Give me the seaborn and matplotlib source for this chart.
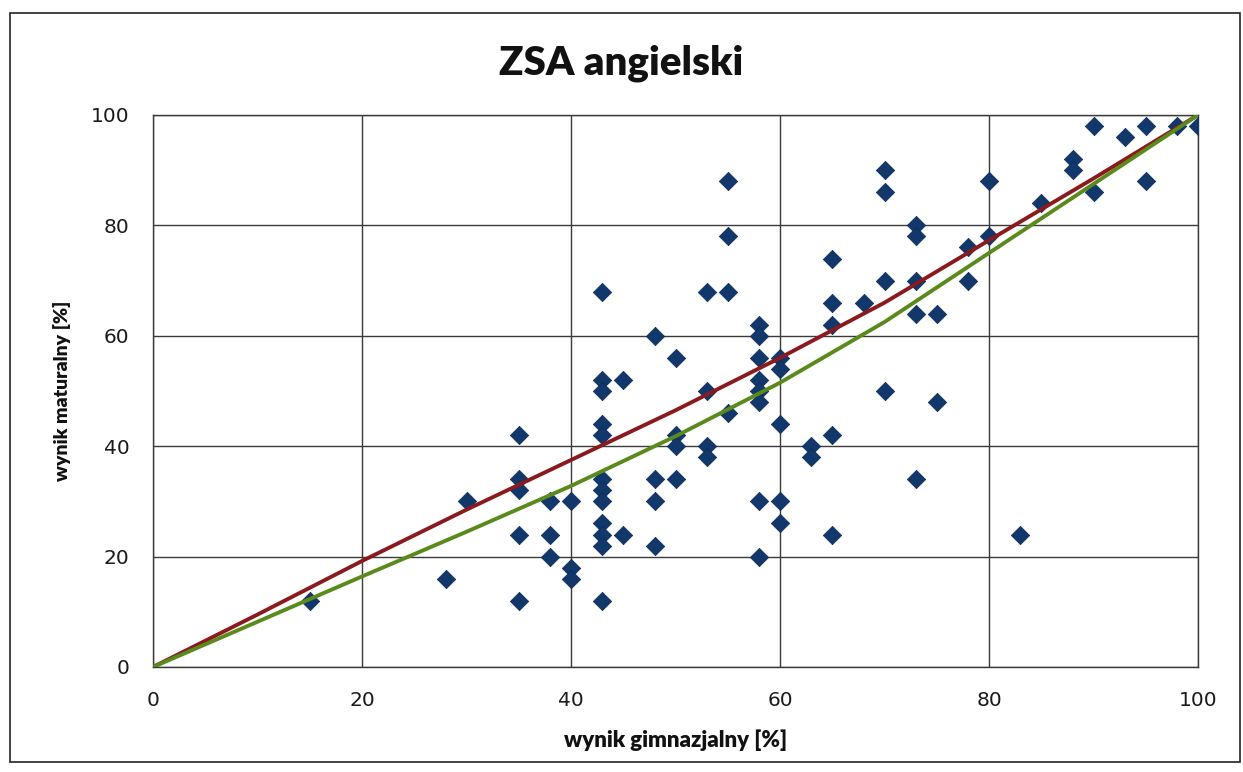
import matplotlib
matplotlib.use("Agg")
import matplotlib.pyplot as plt
import seaborn as sns
import pandas as pd
from matplotlib.patches import Rectangle

# wynik gimnazjalny / wynik maturalny
gim = [15, 28, 30,
       35, 35, 35, 35, 35,
       38, 38, 38,
       40, 40, 40,
       43, 43, 43, 43, 43, 43, 43, 43, 43, 43, 43, 43,
       45, 45,
       48, 48, 48, 48,
       50, 50, 50, 50,
       53, 53, 53, 53,
       55, 55, 55, 55,
       58, 58, 58, 58, 58, 58, 58, 58,
       60, 60, 60, 60, 60,
       63, 63,
       65, 65, 65, 65, 65,
       68,
       70, 70, 70, 70,
       73, 73, 73, 73, 73,
       75, 75,
       78, 78,
       80, 80,
       83, 85,
       88, 88,
       90, 90,
       93,
       95, 95,
       98, 100]
mat = [12, 16, 30,
       42, 34, 32, 24, 12,
       30, 24, 20,
       30, 18, 16,
       68, 52, 50, 44, 42, 34, 32, 30, 26, 24, 22, 12,
       52, 24,
       60, 34, 30, 22,
       56, 42, 40, 34,
       68, 50, 40, 38,
       88, 78, 68, 46,
       62, 60, 56, 52, 50, 48, 30, 20,
       56, 54, 44, 30, 26,
       40, 38,
       74, 66, 62, 42, 24,
       66,
       90, 86, 70, 50,
       80, 78, 70, 64, 34,
       64, 48,
       76, 70,
       88, 78,
       24, 84,
       92, 90,
       98, 86,
       96,
       98, 88,
       98, 98]

# linie trendu
trend_x = [0, 10, 20, 30, 40, 50, 60, 70, 80, 90, 100]
trend_red = [0, 9.5, 19.2, 28.5, 37.5, 46.5, 56, 66, 77.3, 88.5, 100]
trend_green = [0, 8.2, 16.4, 24.5, 32.8, 41.8, 51.5, 62.5, 75, 87.5, 100]

ticks = [0, 20, 40, 60, 80, 100]

df = pd.DataFrame({"gim": gim, "mat": mat})
tr = pd.DataFrame({"x": trend_x, "red": trend_red, "green": trend_green})

sns.set_theme(style="white")
plt.rcParams["font.family"] = ["DejaVu Sans"]

fig = plt.figure(figsize=(12.43, 7.72), dpi=100)
ax = fig.add_axes([153 / 1243, 1 - 667 / 772, 1045 / 1243, 552 / 772])

ax.grid(True, color="#3a3a3a", linewidth=1.0)
ax.set_axisbelow(True)

sns.scatterplot(data=df, x="gim", y="mat", ax=ax, marker="D", s=88,
                color="#12386b", edgecolor="#0b2c58", linewidth=0.5, zorder=3)
sns.lineplot(data=tr, x="x", y="red", ax=ax, color="#8b1a1f", linewidth=2.8,
             zorder=4, estimator=None)
sns.lineplot(data=tr, x="x", y="green", ax=ax, color="#5a8a1c", linewidth=2.8,
             zorder=4, estimator=None)

ax.set_xlim(0, 100)
ax.set_ylim(0, 100)
ax.set_xticks(ticks)
ax.set_yticks(ticks)
ax.tick_params(axis="both", direction="out", length=6, width=1,
               labelsize=14.5, pad=11)
ax.tick_params(axis="both", colors="#3a3a3a", labelcolor="#1a1a1a")
for sp in ax.spines.values():
    sp.set_color("#3a3a3a")
    sp.set_linewidth(1.0)

ax.set_xlabel("wynik gimnazjalny [%]", family="Lato", fontweight="heavy",
              fontsize=16, labelpad=14, color="#111111")
ax.set_ylabel("wynik maturalny [%]", family="Lato", fontweight="heavy",
              fontsize=14, labelpad=14, color="#111111")
fig.text(0.5, 0.918, "ZSA angielski", family="Lato", fontweight="heavy",
         fontsize=29, ha="center", va="center", color="#111111")

# ramka wykresu
fig.patches.append(Rectangle((10 / 1243, 10 / 772), 1230 / 1243, 749 / 772,
                             transform=fig.transFigure, fill=False,
                             edgecolor="#222222", linewidth=1.2))

fig.savefig("out.png", dpi=100)
